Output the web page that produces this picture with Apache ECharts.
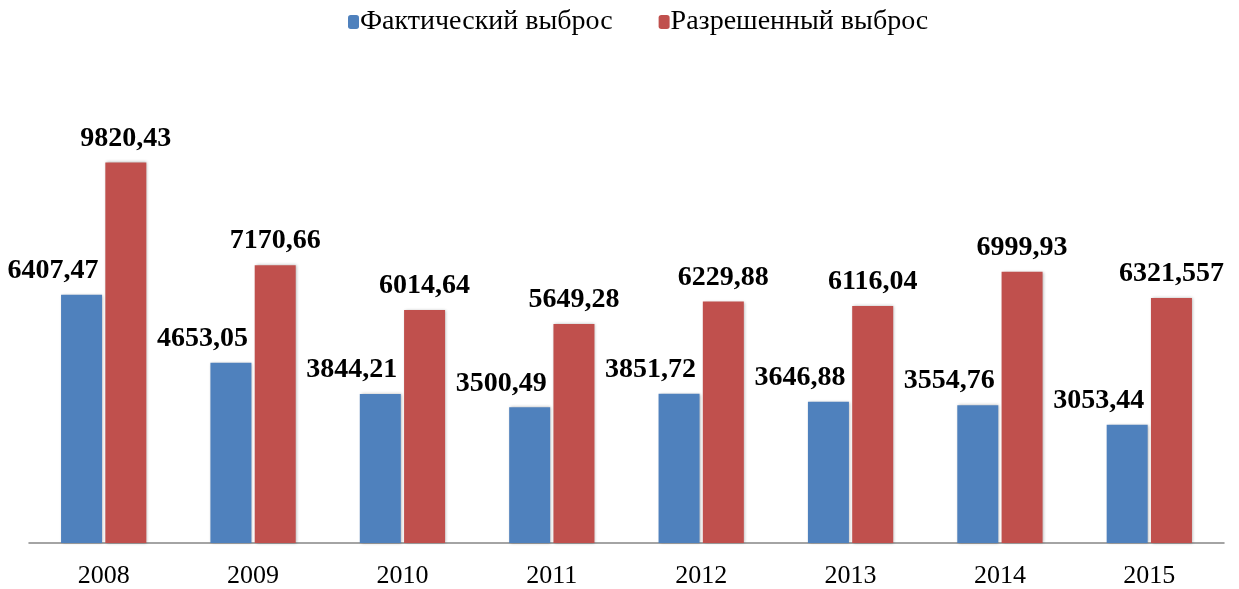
<!DOCTYPE html>
<html>
<head>
<meta charset="utf-8">
<script src="https://cdn.jsdelivr.net/npm/echarts@6/dist/echarts.min.js"></script>
<style>
html,body{margin:0;padding:0;background:#fff;}
#main{width:1239px;height:589px;}
</style>
</head>
<body>
<div id="main"></div>
<script>
var years = ['2008', '2009', '2010', '2011', '2012', '2013', '2014', '2015'];
var factual = [6407.47, 4653.05, 3844.21, 3500.49, 3851.72, 3646.88, 3554.76, 3053.44];
var allowed = [9820.43, 7170.66, 6014.64, 5649.28, 6229.88, 6116.04, 6999.93, 6321.557];
var seriesNames = ['Фактический выброс', 'Разрешенный выброс'];

var serif = '"Liberation Serif", "Times New Roman", serif';

function fmt(p) {
    return String(p.value).replace('.', ',');
}

var chartDom = document.getElementById('main');
var myChart = echarts.init(chartDom);
var option;

option = {
    animation: false,
    legend: {
        top: 3,
        left: 343,
        itemWidth: 11,
        itemHeight: 14,
        itemGap: 46,
        textStyle: { fontFamily: serif, fontSize: 28, color: '#000', padding: [0, 0, 0, -4] },
        data: seriesNames
    },
    grid: {
        left: 29,
        right: 15,
        top: 78,
        bottom: 45
    },
    xAxis: {
        type: 'category',
        data: years,
        axisTick: { show: false },
        axisLine: { lineStyle: { color: '#868686', width: 1.5 } },
        axisLabel: { fontFamily: serif, fontSize: 26, color: '#000', margin: 20 }
    },
    yAxis: {
        type: 'value',
        min: 0,
        max: 12000,
        show: false,
        splitLine: { show: false }
    },
    series: [
        {
            name: seriesNames[0],
            type: 'bar',
            data: factual,
            barWidth: 41,
            barGap: '8%',
            itemStyle: {
                color: '#4F81BD',
                shadowColor: 'rgba(0,0,0,0.3)',
                shadowBlur: 3,
                shadowOffsetX: 1
            },
            label: {
                show: true,
                position: 'top',
                align: 'right',
                offset: [17, 0],
                distance: 10,
                formatter: fmt,
                fontFamily: serif,
                fontSize: 28,
                fontWeight: 'bold',
                color: '#000'
            }
        },
        {
            name: seriesNames[1],
            type: 'bar',
            data: allowed,
            barWidth: 41,
            itemStyle: {
                color: '#C0504D',
                shadowColor: 'rgba(0,0,0,0.3)',
                shadowBlur: 3,
                shadowOffsetX: 1
            },
            label: {
                show: true,
                position: 'top',
                distance: 10,
                formatter: fmt,
                fontFamily: serif,
                fontSize: 28,
                fontWeight: 'bold',
                color: '#000'
            }
        }
    ]
};

option && myChart.setOption(option);
</script>
</body>
</html>
